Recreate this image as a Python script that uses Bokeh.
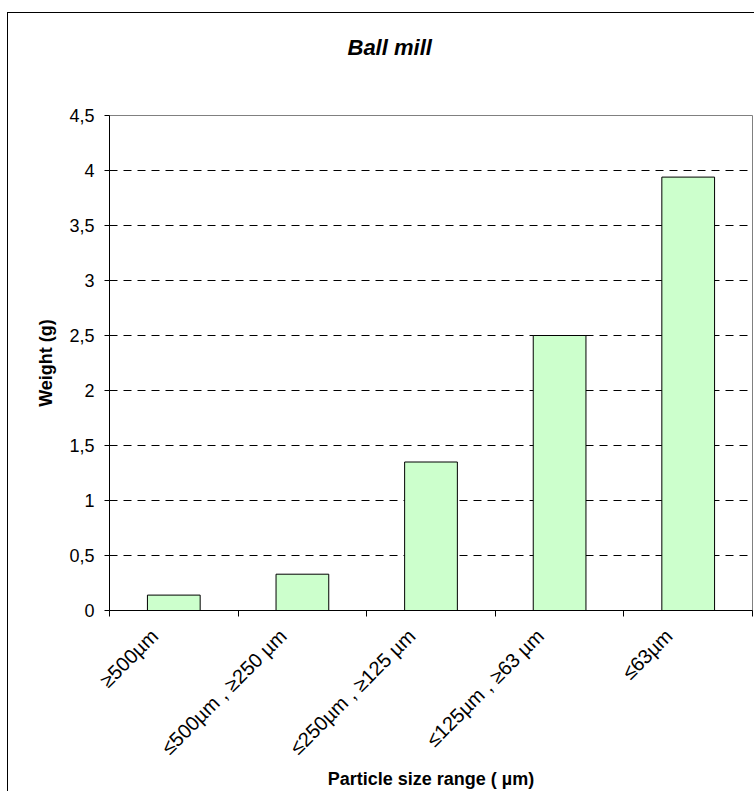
import math
from bokeh.plotting import figure
from bokeh.models import FixedTicker, Range1d, Title
from bokeh.embed import file_html
from bokeh.resources import INLINE

# ---- data ----
categories = ["≥500µm", "≤500µm , ≥250 µm", "≤250µm , ≥125 µm", "≤125µm , ≥63 µm", "≤63µm"]
weights = [0.14, 0.33, 1.35, 2.5, 3.94]
y_ticks = [0, 0.5, 1, 1.5, 2, 2.5, 3, 3.5, 4, 4.5]
y_tick_labels = ["0", "0,5", "1", "1,5", "2", "2,5", "3", "3,5", "4", "4,5"]
title_text = "Ball mill"
x_title = "Particle size range ( µm)"
y_title = "Weight (g)"

FONT = "Liberation Sans"
LABEL_SHIFT = 0.15  # small visual offset of the slanted category labels

n = len(categories)
xs = [i + 0.5 for i in range(n)]
label_pos = [x - LABEL_SHIFT for x in xs]
bounds = list(range(n + 1))

p = figure(
    frame_width=643, frame_height=495,
    x_range=Range1d(0, n), y_range=Range1d(y_ticks[0], y_ticks[-1]),
    output_backend="svg", toolbar_location=None,
    min_border_left=101, min_border_right=3,
    min_border_top=102, min_border_bottom=150,
)
p.styles = {"position": "relative", "top": "13px", "left": "8px",
            "box-shadow": "-1px -1px 0 0 #000000"}
p.background_fill_color = "white"
p.border_fill_color = "white"
p.outline_line_color = "#808080"
p.outline_line_width = 1

# title (an empty spacer title keeps the real one up in the header)
p.title = None
spacer = Title(text=" ", text_font_size="10px", standoff=43)
p.add_layout(spacer, "above")
main_title = Title(text=title_text, align="left", offset=238, standoff=0,
                   text_font=FONT, text_font_size="22px",
                   text_font_style="bold italic", text_color="black")
p.add_layout(main_title, "above")

# bars
p.vbar(x=xs, top=weights, width=0.41, fill_color="#CCFFCC",
       line_color="black", line_width=1)

# grid
p.xgrid.visible = False
p.ygrid.ticker = FixedTicker(ticks=y_ticks[1:-1])
p.ygrid.grid_line_color = "black"
p.ygrid.grid_line_dash = "8 6"
p.ygrid.grid_line_width = 1

# y axis
ya = p.yaxis[0]
ya.ticker = FixedTicker(ticks=y_ticks)
ya.major_label_overrides = dict(zip(y_ticks, y_tick_labels))
ya.major_tick_out = 5
ya.major_tick_in = 0
ya.minor_tick_out = 0
ya.minor_tick_in = 0
ya.major_label_standoff = 10
ya.axis_line_color = "black"
ya.major_tick_line_color = "black"
ya.major_label_text_font = FONT
ya.major_label_text_font_size = "18px"
ya.major_label_text_color = "black"
ya.axis_label = y_title
ya.axis_label_text_font = FONT
ya.axis_label_text_font_size = "18px"
ya.axis_label_text_font_style = "bold"
ya.axis_label_text_color = "black"
ya.axis_label_standoff = 10

# x axis
xa = p.xaxis[0]
xa.ticker = FixedTicker(ticks=label_pos, minor_ticks=bounds)
xa.major_label_overrides = dict(zip(label_pos, categories))
xa.major_label_orientation = math.pi / 4
xa.major_tick_out = 0
xa.major_tick_in = 0
xa.minor_tick_out = 6
xa.minor_tick_in = 0
xa.minor_tick_line_color = "black"
xa.major_label_standoff = 16
xa.axis_line_color = "black"
xa.major_label_text_font = FONT
xa.major_label_text_font_size = "20px"
xa.major_label_text_color = "black"
xa.axis_label = x_title
xa.axis_label_text_font = FONT
xa.axis_label_text_font_size = "18px"
xa.axis_label_text_font_style = "bold"
xa.axis_label_text_color = "black"
xa.axis_label_standoff = 0

open("out.html", "w").write(file_html(p, INLINE))
